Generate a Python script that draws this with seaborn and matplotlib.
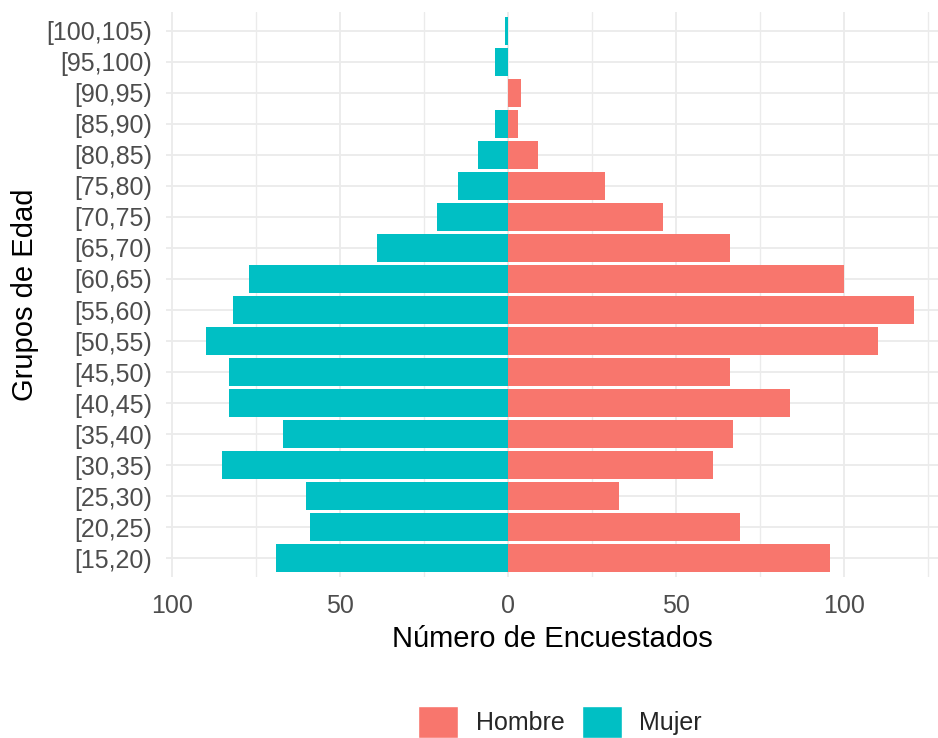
import pandas as pd
import numpy as np
import matplotlib.pyplot as plt
import seaborn as sns
from matplotlib.patches import Patch
from matplotlib.ticker import FixedLocator, FuncFormatter

grupos = ["[100,105)", "[95,100)", "[90,95)", "[85,90)", "[80,85)", "[75,80)",
          "[70,75)", "[65,70)", "[60,65)", "[55,60)", "[50,55)", "[45,50)",
          "[40,45)", "[35,40)", "[30,35)", "[25,30)", "[20,25)", "[15,20)"]
hombre = [0, 0, 4, 3, 9, 29, 46, 66, 100, 121, 110, 66, 84, 67, 61, 33, 69, 96]
mujer = [1, 4, 0, 4, 9, 15, 21, 39, 77, 82, 90, 83, 83, 67, 85, 60, 59, 69]

# mujer va a la izquierda (negativo)
df = pd.DataFrame({
    "grupo": grupos * 2,
    "n": hombre + [-m for m in mujer],
    "sexo": ["Hombre"] * len(grupos) + ["Mujer"] * len(grupos),
})

sns.set_style("white")
plt.rcParams["font.family"] = ["Liberation Sans", "DejaVu Sans"]

colores = {"Hombre": "#F8766D", "Mujer": "#00BFC4"}

fig = plt.figure(figsize=(9.38, 7.38), dpi=100)
ax = fig.add_axes([166 / 938, 1 - 577 / 738, (938 - 166) / 938, (577 - 12) / 738])

sns.barplot(data=df, y="grupo", x="n", hue="sexo", order=grupos,
            palette=colores, dodge=False, width=0.9, orient="h",
            saturation=1, legend=False, linewidth=0, ax=ax)

ax.set_xlim(-101.8, 128)
ax.set_ylim(len(grupos) - 0.4, -0.6)
ax.xaxis.set_major_locator(FixedLocator([-100, -50, 0, 50, 100]))
ax.xaxis.set_minor_locator(FixedLocator([-75, -25, 25, 75, 125]))
ax.xaxis.set_major_formatter(FuncFormatter(lambda v, p: f"{abs(int(v))}"))

ax.grid(True, which="major", color="#EBEBEB", linewidth=1.3)
ax.grid(True, which="minor", axis="x", color="#EBEBEB", linewidth=1.0)
ax.set_axisbelow(True)
for s in ax.spines.values():
    s.set_visible(False)
ax.tick_params(axis="both", which="both", length=0, labelsize=18,
               labelcolor="#4D4D4D")
ax.tick_params(axis="y", pad=10)
ax.tick_params(axis="x", pad=12)

ax.set_xlabel("Número de Encuestados", fontsize=21, color="black", labelpad=5)
ax.set_ylabel("Grupos de Edad", fontsize=21, color="black", labelpad=5)

handles = [Patch(facecolor=colores[k], label=k) for k in ["Hombre", "Mujer"]]
fig.legend(handles=handles, loc="center", bbox_to_anchor=(0.597, 1 - 722 / 738),
           ncol=2, frameon=False, fontsize=18, handlelength=1.6,
           handleheight=1.6, handletextpad=0.7, columnspacing=0.7)

fig.savefig("out.png", dpi=100)
